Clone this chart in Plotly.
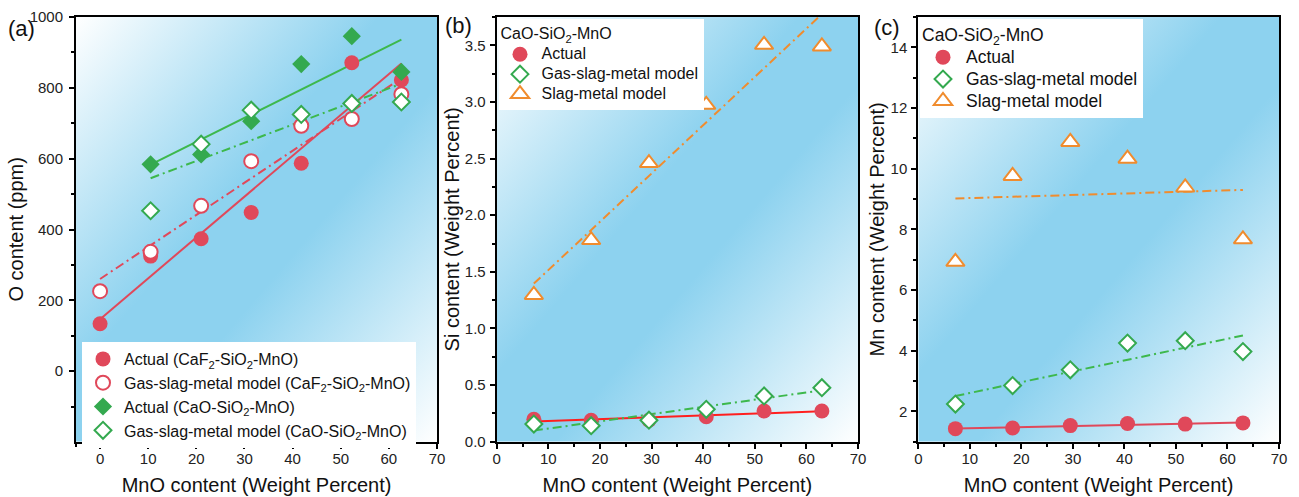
import base64
import numpy as np
import plotly.graph_objects as go
from plotly.subplots import make_subplots

# ---------------- data ----------------
# panel (a): O content (ppm) vs MnO content
a_x_caf2 = [0, 10.5, 21.0, 31.4, 41.8, 52.3, 62.6]
a_caf2_actual = [134, 325, 374, 448, 587, 871, 822]
a_caf2_model = [226, 337, 467, 593, 693, 712, 782]
a_x_cao = [10.5, 21.0, 31.4, 41.8, 52.3, 62.6]
a_cao_actual = [584, 612, 706, 867, 946, 845]
a_cao_model = [453, 641, 737, 725, 756, 760]

# panels (b), (c): CaO-SiO2-MnO
bc_x = [7.2, 18.3, 29.5, 40.6, 51.8, 63.0]
b_si_actual = [0.198, 0.190, 0.190, 0.220, 0.271, 0.271]
b_si_gsm = [0.156, 0.141, 0.190, 0.286, 0.404, 0.477]
b_si_sm = [1.296, 1.780, 2.460, 2.975, 3.504, 3.490]
c_mn_actual = [1.43, 1.45, 1.53, 1.60, 1.58, 1.62]
c_mn_gsm = [2.24, 2.85, 3.37, 4.25, 4.33, 3.97]
c_mn_sm = [6.93, 9.76, 10.88, 10.33, 9.38, 7.67]

RED = "#e0485a"
RED_LINE_B = "#ff1f1f"
GREEN = "#34a94f"
GREEN_LINE = "#3db84c"
ORANGE = "#f08c2e"
FONT = "Arial, 'Liberation Sans', sans-serif"
DASHDOT = "9px,4px,2px,4px"

W, H = 1299, 497


def fit_line(x, y):
    k, b = np.polyfit(np.asarray(x, float), np.asarray(y, float), 1)
    xs = np.array([min(x), max(x)], float)
    return xs, k * xs + b


fig = make_subplots(rows=1, cols=3)


def add_fit(x, y, col, color, dash):
    xs, ys = fit_line(x, y)
    fig.add_trace(go.Scatter(x=xs, y=ys, mode="lines", showlegend=False, hoverinfo="skip",
                             line=dict(color=color, width=2, dash=dash)), row=1, col=col)


def add_pts(x, y, col, name, symbol, color, filled, legend, size):
    if filled:
        marker = dict(symbol=symbol, size=size, color=color, line=dict(width=0))
    else:
        marker = dict(symbol=symbol, size=size, color="white", line=dict(color=color, width=2))
    fig.add_trace(go.Scatter(x=x, y=y, mode="markers", name=name, marker=marker,
                             legend=legend), row=1, col=col)


def big(txt, size):
    return f'<span style="font-size:{size}px">{txt}</span>'


# ---- panel (a)
add_fit(a_x_caf2, a_caf2_actual, 1, RED, "solid")
add_fit(a_x_caf2, a_caf2_model, 1, RED, DASHDOT)
add_fit(a_x_cao, a_cao_actual, 1, GREEN_LINE, "solid")
add_fit(a_x_cao, a_cao_model, 1, GREEN_LINE, DASHDOT)
add_pts(a_x_caf2, a_caf2_actual, 1, "Actual (CaF<sub>2</sub>-SiO<sub>2</sub>-MnO)", "circle", RED, True, "legend", 15)
add_pts(a_x_caf2, a_caf2_model, 1, "Gas-slag-metal model (CaF<sub>2</sub>-SiO<sub>2</sub>-MnO)", "circle", RED, False, "legend", 14)
add_pts(a_x_cao, a_cao_actual, 1, "Actual (CaO-SiO<sub>2</sub>-MnO)", "diamond", GREEN, True, "legend", 14)
add_pts(a_x_cao, a_cao_model, 1, "Gas-slag-metal model (CaO-SiO<sub>2</sub>-MnO)", "diamond", GREEN, False, "legend", 13)

# ---- panel (b)
add_fit(bc_x, b_si_actual, 2, RED_LINE_B, "solid")
add_fit(bc_x, b_si_gsm, 2, GREEN_LINE, DASHDOT)
add_fit(bc_x, b_si_sm, 2, ORANGE, DASHDOT)
add_pts(bc_x, b_si_actual, 2, big("Actual", 16), "circle", RED, True, "legend2", 15)
add_pts(bc_x, b_si_gsm, 2, big("Gas-slag-metal model", 16), "diamond", GREEN, False, "legend2", 13)
add_pts(bc_x, b_si_sm, 2, big("Slag-metal model", 16), "triangle-up", ORANGE, False, "legend2", 16)

# ---- panel (c)
add_fit(bc_x, c_mn_actual, 3, RED, "solid")
add_fit(bc_x, c_mn_gsm, 3, GREEN_LINE, DASHDOT)
add_fit(bc_x, c_mn_sm, 3, ORANGE, DASHDOT)
add_pts(bc_x, c_mn_actual, 3, big("Actual", 17.5), "circle", RED, True, "legend3", 15)
add_pts(bc_x, c_mn_gsm, 3, big("Gas-slag-metal model", 17.5), "diamond", GREEN, False, "legend3", 13)
add_pts(bc_x, c_mn_sm, 3, big("Slag-metal model", 17.5), "triangle-up", ORANGE, False, "legend3", 16)

# ---------------- layout ----------------
def px_x(p):
    return p / W


def px_y(p):
    return 1 - p / H


dom_y = [px_y(441.7), px_y(17)]
domains_x = [[px_x(76), px_x(437)], [px_x(496.7), px_x(858)], [px_x(918.3), px_x(1279)]]

axis_common = dict(
    showline=True, linewidth=2, linecolor="black", mirror=True,
    showgrid=False, zeroline=False, automargin=False,
    ticks="outside", ticklen=5, tickwidth=1.5, tickcolor="black",
    tickfont=dict(family=FONT, size=15, color="#222"),
    title_font=dict(family=FONT, size=20, color="#111"),
)
minor_common = dict(ticks="outside", ticklen=3, tickwidth=1.5, tickcolor="black", showgrid=False)

x_title = "MnO content (Weight Percent)"
xcommon = dict(tick0=0, dtick=10, minor=dict(dtick=5, **minor_common), ticklabelstandoff=-3,
               title=dict(text=x_title, standoff=12), **axis_common)
fig.update_layout(
    template="none",
    xaxis=dict(domain=domains_x[0], range=[-5, 70], **xcommon),
    xaxis2=dict(domain=domains_x[1], range=[0, 70], **xcommon),
    xaxis3=dict(domain=domains_x[2], range=[0, 70], **xcommon),
    yaxis=dict(domain=dom_y, range=[-199, 1000], tick0=0, dtick=200, ticklabelstandoff=3,
               minor=dict(dtick=100, **minor_common),
               title=dict(text="O content (ppm)", standoff=1), **axis_common),
    yaxis2=dict(domain=dom_y, range=[0, 3.75], tick0=0, dtick=0.5, tickformat=".1f",
                ticklabelstandoff=1, minor=dict(dtick=0.25, **minor_common),
                title=dict(text="Si content (Weight Percent)", standoff=0), **axis_common),
    yaxis3=dict(domain=dom_y, range=[1, 15], tick0=0, dtick=2, ticklabelstandoff=1,
                minor=dict(dtick=1, **minor_common),
                title=dict(text="Mn content (Weight Percent)", standoff=1), **axis_common),
)

fig.update_layout(
    width=W, height=H,
    margin=dict(l=0, r=0, t=0, b=0, pad=0),
    paper_bgcolor="white",
    plot_bgcolor="rgba(0,0,0,0)",
    font=dict(family=FONT, color="#111"),
    legend=dict(x=px_x(82), y=px_y(342), xanchor="left", yanchor="top", itemwidth=32,
                bgcolor="white", borderwidth=0, font=dict(family=FONT, size=16, color="#111"),
                traceorder="normal"),
    legend2=dict(x=px_x(498.5), y=px_y(18.5), xanchor="left", yanchor="top", itemwidth=33,
                 bgcolor="white", borderwidth=0, font=dict(family=FONT, size=13, color="#111"),
                 title=dict(text="CaO-SiO<sub>2</sub>-MnO", font=dict(family=FONT, size=16, color="#111")),
                 traceorder="normal"),
    legend3=dict(x=px_x(920), y=px_y(18.5), xanchor="left", yanchor="top", itemwidth=36,
                 bgcolor="white", borderwidth=0, font=dict(family=FONT, size=14.5, color="#111"),
                 title=dict(text="CaO-SiO<sub>2</sub>-MnO", font=dict(family=FONT, size=17.5, color="#111")),
                 traceorder="normal"),
    showlegend=True,
)

# gradient backgrounds
svg = ('<svg xmlns="http://www.w3.org/2000/svg" width="200" height="200" viewBox="0 0 200 200" '
       'preserveAspectRatio="none"><defs><linearGradient id="g" x1="0" y1="0" x2="1" y2="1">'
       '<stop offset="0" stop-color="#ffffff"/><stop offset="0.42" stop-color="#8dd2ef"/>'
       '<stop offset="0.58" stop-color="#8dd2ef"/><stop offset="1" stop-color="#ffffff"/>'
       '</linearGradient></defs><rect width="200" height="200" fill="url(#g)"/></svg>')
src = "data:image/svg+xml;base64," + base64.b64encode(svg.encode()).decode()
images = []
for i in ["", "2", "3"]:
    images.append(dict(source=src, xref=f"x{i} domain", yref=f"y{i} domain", x=0, y=1,
                       sizex=1, sizey=1, xanchor="left", yanchor="top", sizing="stretch",
                       layer="below"))
fig.update_layout(images=images)

# panel labels
for txt, xp, yp in [("(a)", 22, 28), ("(b)", 458, 25), ("(c)", 887, 27)]:
    fig.add_annotation(text=txt, x=px_x(xp), y=px_y(yp), xref="paper", yref="paper",
                       showarrow=False, font=dict(family=FONT, size=22, color="#111"),
                       xanchor="center", yanchor="middle")

fig.write_html("out.html", config={"displayModeBar": False},
               post_script="document.body.style.margin='0px';")
